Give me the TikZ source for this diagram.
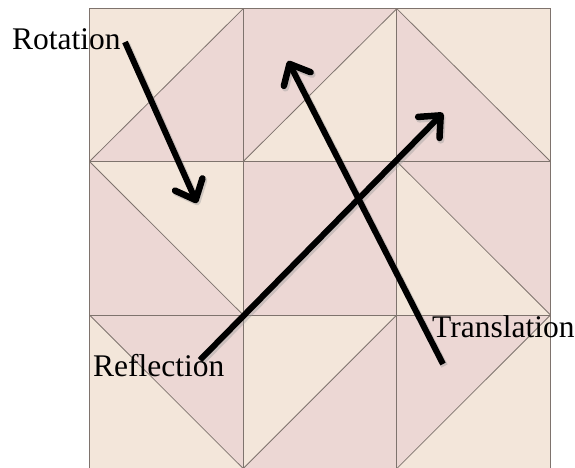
\documentclass[tikz,border=0pt]{standalone}
\usepackage{fontspec}
\setmainfont{Liberation Serif}
\usetikzlibrary{arrows.meta}
\definecolor{cream}{HTML}{F3E6DA}
\definecolor{pinkish}{HTML}{ECD7D4}
\definecolor{seam}{HTML}{7E736D}
\tikzset{
  creamtri/.style={fill=cream},
  pinktri/.style={fill=pinkish},
  seamline/.style={draw=seam,line width=0.8pt},
  bigarrow/.style={line width=6pt,black,-{Straight Barb[length=17pt,width=30pt,line width=6.5pt,round]}},
  shadowarrow/.style={line width=7pt,black!40,opacity=0.4,-{Straight Barb[length=17pt,width=30pt,line width=7pt,round]}},
  lbl/.style={inner sep=0pt,anchor=base west,font=\fontsize{31.5}{36}\selectfont}
}
\begin{document}
\begin{tikzpicture}[x=1pt,y=-1pt]
\useasboundingbox (0,0) rectangle (575,467);
\fill[white] (0,0) rectangle (575,467);
\def\Xa{89.5}\def\Xb{243.2}\def\Xc{396.8}\def\Xd{550.5}
\def\Ya{8.7}\def\Yb{161.5}\def\Yc{315}\def\Yd{468.5}
% row 0
\fill[creamtri] (\Xa,\Ya) -- (\Xb,\Ya) -- (\Xa,\Yb) -- cycle;
\fill[pinktri] (\Xb,\Ya) -- (\Xb,\Yb) -- (\Xa,\Yb) -- cycle;
\fill[pinktri] (\Xb,\Ya) -- (\Xc,\Ya) -- (\Xb,\Yb) -- cycle;
\fill[creamtri] (\Xc,\Ya) -- (\Xc,\Yb) -- (\Xb,\Yb) -- cycle;
\fill[creamtri] (\Xc,\Ya) -- (\Xd,\Ya) -- (\Xd,\Yb) -- cycle;
\fill[pinktri] (\Xc,\Ya) -- (\Xd,\Yb) -- (\Xc,\Yb) -- cycle;
% row 1
\fill[creamtri] (\Xa,\Yb) -- (\Xb,\Yb) -- (\Xb,\Yc) -- cycle;
\fill[pinktri] (\Xa,\Yb) -- (\Xb,\Yc) -- (\Xa,\Yc) -- cycle;
\fill[pinktri] (\Xb,\Yb) rectangle (\Xc,\Yc);
\fill[pinktri] (\Xc,\Yb) -- (\Xd,\Yb) -- (\Xd,\Yc) -- cycle;
\fill[creamtri] (\Xc,\Yb) -- (\Xd,\Yc) -- (\Xc,\Yc) -- cycle;
% row 2
\fill[pinktri] (\Xa,\Yc) -- (\Xb,\Yc) -- (\Xb,\Yd) -- cycle;
\fill[creamtri] (\Xa,\Yc) -- (\Xb,\Yd) -- (\Xa,\Yd) -- cycle;
\fill[creamtri] (\Xb,\Yc) -- (\Xc,\Yc) -- (\Xb,\Yd) -- cycle;
\fill[pinktri] (\Xc,\Yc) -- (\Xc,\Yd) -- (\Xb,\Yd) -- cycle;
\fill[pinktri] (\Xc,\Yc) -- (\Xd,\Yc) -- (\Xc,\Yd) -- cycle;
\fill[creamtri] (\Xd,\Yc) -- (\Xd,\Yd) -- (\Xc,\Yd) -- cycle;
% seams
\draw[seamline] (\Xa,\Yb) -- (\Xb,\Ya) (\Xb,\Yb) -- (\Xc,\Ya) (\Xc,\Ya) -- (\Xd,\Yb)
  (\Xa,\Yb) -- (\Xb,\Yc) (\Xc,\Yb) -- (\Xd,\Yc)
  (\Xa,\Yc) -- (\Xb,\Yd) (\Xc,\Yc) -- (\Xb,\Yd) (\Xd,\Yc) -- (\Xc,\Yd);
\draw[seamline] (\Xa,\Yb) -- (\Xd,\Yb) (\Xa,\Yc) -- (\Xd,\Yc)
  (\Xb,\Ya) -- (\Xb,\Yd) (\Xc,\Ya) -- (\Xc,\Yd);
\draw[seam,line width=1.2pt] (\Xa,\Yd) -- (\Xa,\Ya) -- (\Xd,\Ya) -- (\Xd,\Yd);
% arrow end points
\coordinate (rotS) at (125,42);
\coordinate (rotE) at (197,203);
\coordinate (traS) at (443,364);
\coordinate (traE) at (288,61);
\coordinate (refS) at (200,360);
\coordinate (refE) at (443,113);
% shadows
\foreach \s/\e in {rotS/rotE,traS/traE,refS/refE}{
  \draw[shadowarrow] ([shift={(1.5,2)}]\s) -- ([shift={(1.5,2)}]\e);
}
\draw[bigarrow] (rotS) -- (rotE);
\draw[bigarrow] (traS) -- (traE);
\draw[bigarrow] (refS) -- (refE);
% labels
\node[lbl] (rot) at (12,49) {Rotation};
\node[lbl] (ref) at (93,376) {Reflection};
\node[lbl] (tra) at (432,337) {Translation};
\end{tikzpicture}
\end{document}
